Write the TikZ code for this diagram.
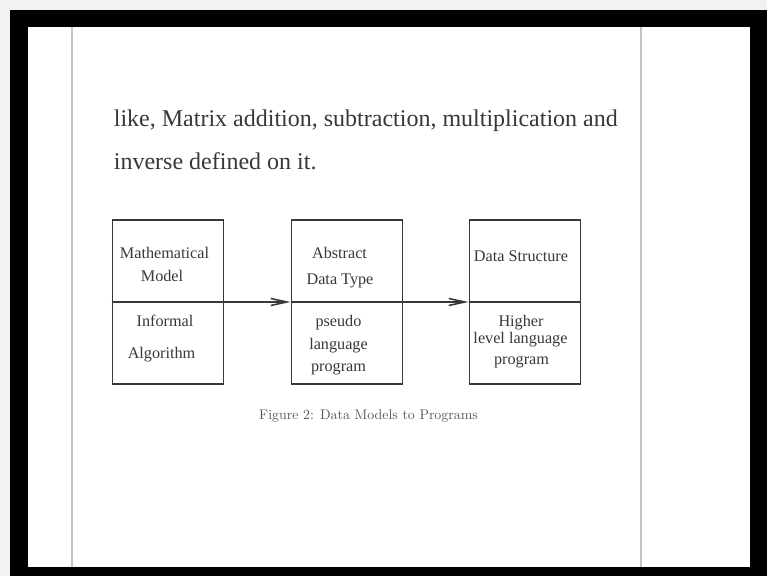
\documentclass[tikz,border=0pt]{standalone}
\usepackage{fontspec}
\usetikzlibrary{arrows.meta, positioning}
\newfontfamily\timesfont{Liberation Serif}
\newfontfamily\capfont{lmroman10-regular.otf}
\definecolor{pagegray}{HTML}{F2F2F2}
\definecolor{inkgray}{HTML}{383838}
\definecolor{rulegray}{HTML}{C4C4C4}

\begin{document}
\begin{tikzpicture}[x=0.5pt, y=-0.5pt,
    bodytext/.style={inner sep=0pt, anchor=base west, text=inkgray, font=\timesfont\fontsize{12}{14}\selectfont},
    modelbox/.style={draw=inkgray, line width=0.8pt, minimum width=55.5pt, minimum height=82pt, inner sep=0pt},
    boxtext/.style={inner sep=0pt, anchor=base, text=inkgray, font=\timesfont\fontsize{8.1}{10}\selectfont},
    captiontext/.style={inner sep=0pt, anchor=base, text=black!65, font=\capfont\fontsize{6.95}{8}\selectfont},
    flow/.style={draw=inkgray, line width=0.8pt, -{Straight Barb[length=8pt, width=3.5pt]}}]

    \useasboundingbox (0,0) rectangle (767,576);

    % Screen frame and page
    \fill[pagegray] (0,0) rectangle (767,576);
    \fill[black] (10,10) rectangle (767,576);
    \fill[white] (28,27) rectangle (750,567);
    \draw[rulegray, line width=0.7pt] (72,27) -- (72,567);
    \draw[rulegray, line width=0.7pt] (641,27) -- (641,567);

    % Running text
    \node (line1) [bodytext] at (113.5,127) {like, Matrix addition, subtraction, multiplication and};
    \node (line2) [bodytext] at (113.5,170) {inverse defined on it.};

    % Boxes
    \node (b1) [modelbox] at (167.8,302) {};
    \node (b2) [modelbox, right=33.2pt of b1] {};
    \node (b3) [modelbox, right=32.7pt of b2] {};

    % Upper halves
    \node (m1) [boxtext] at (164.5,258.3) {Mathematical};
    \node (m2) [boxtext] at (162,281.7) {Model};
    \node (d1) [boxtext] at (339.5,258.3) {Abstract};
    \node (d2) [boxtext] at (340,285) {Data Type};
    \node (s1) [boxtext] at (521,261.7) {Data Structure};

    % Lower halves
    \node (i1) [boxtext] at (165,326.7) {Informal};
    \node (i2) [boxtext] at (161.5,358.3) {Algorithm};
    \node (p1) [boxtext] at (338.5,326.7) {pseudo};
    \node (p2) [boxtext] at (338.5,349.3) {language};
    \node (p3) [boxtext] at (338.5,371.7) {program};
    \node (h1) [boxtext] at (521,326.7) {Higher};
    \node (h2) [boxtext] at (520.5,343.3) {level language};
    \node (h3) [boxtext] at (521.5,365) {program};

    % Arrows for mapping
    \draw[flow] (b1.west) -- (b2.west);
    \draw[flow] (b2.west) -- (b3.west);
    \draw[draw=inkgray, line width=0.8pt] (b3.west) -- (b3.east);

    % Caption
    \node (cap) [captiontext] at (368.5,419.3) {Figure 2: Data Models to Programs};

\end{tikzpicture}
\end{document}
